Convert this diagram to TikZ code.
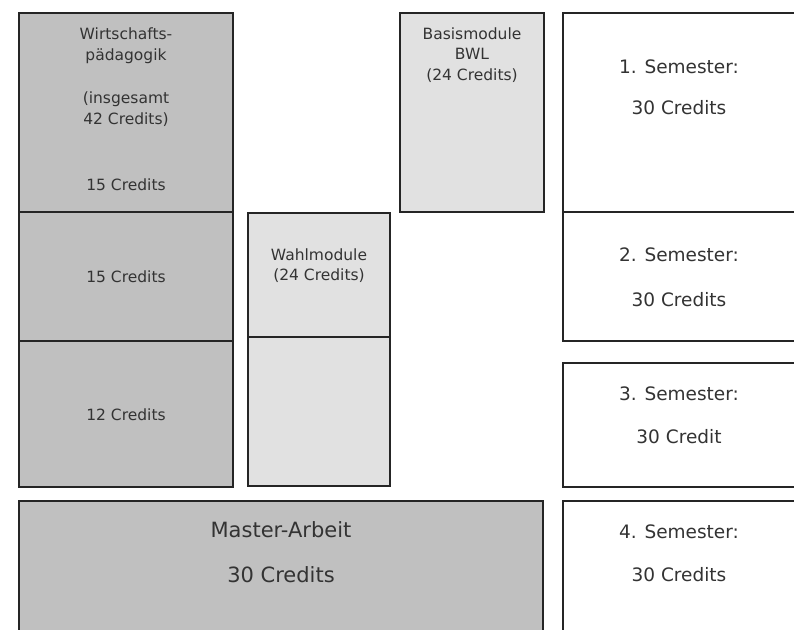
\documentclass[tikz,border=0pt]{standalone}
\usepackage{fontspec}
\setmainfont{DejaVu Sans}
\definecolor{darkfill}{HTML}{C0C0C0}
\definecolor{lightfill}{HTML}{E1E1E1}
\definecolor{edge}{HTML}{252525}
\definecolor{ink}{HTML}{333333}
\tikzset{
  box/.style={draw=edge, line width=2.6pt, inner sep=0pt, outer sep=0pt, anchor=north west},
  dbox/.style={box, fill=darkfill},
  lbox/.style={box, fill=lightfill},
  wbox/.style={box, fill=white},
  small/.style={text=ink, inner sep=0pt, anchor=base, font=\fontsize{15.5}{18}\selectfont},
  mid/.style={text=ink, inner sep=0pt, anchor=base, font=\fontsize{18.5}{22}\selectfont},
  big/.style={text=ink, inner sep=0pt, anchor=base, font=\fontsize{21}{25}\selectfont},
}
\begin{document}
\begin{tikzpicture}[x=1pt,y=-1pt]
\useasboundingbox (0,0) rectangle (794,629);
\clip (0,0) rectangle (794,629);
% boxes
\node[dbox, minimum width=214pt, minimum height=199pt] (wp1) at (19,13) {};
\node[dbox, minimum width=214pt, minimum height=129pt] (wp2) at (19,212) {};
\node[dbox, minimum width=214pt, minimum height=146pt] (wp3) at (19,341) {};
\node[lbox, minimum width=142pt, minimum height=124pt] (wm1) at (248,213) {};
\node[lbox, minimum width=142pt, minimum height=149pt] (wm2) at (248,337) {};
\node[lbox, minimum width=144pt, minimum height=199pt] (bm) at (400,13) {};
\node[wbox, minimum width=250pt, minimum height=199pt] (s1) at (563,13) {};
\node[wbox, minimum width=250pt, minimum height=129pt] (s2) at (563,212) {};
\node[wbox, minimum width=250pt, minimum height=124pt] (s3) at (563,363) {};
\node[wbox, minimum width=250pt, minimum height=150pt] (s4) at (563,501) {};
\node[dbox, minimum width=524pt, minimum height=150pt] (ma) at (19,501) {};
% texts left column
\node[small] (t1) at (126,39.3) {Wirtschafts-};
\node[small] (t2) at (126,60.5) {pädagogik};
\node[small] (t3) at (126,103) {(insgesamt};
\node[small] (t4) at (126,124) {42 Credits)};
\node[small] (t5) at (126,190) {15 Credits};
\node[small] (t6) at (126,282.5) {15 Credits};
\node[small] (t7) at (126,420) {12 Credits};
% Wahlmodule
\node[small] (t8) at (319,260) {Wahlmodule};
\node[small] (t9) at (319,280.7) {(24 Credits)};
% Basismodule
\node[small] (t10) at (472,39.3) {Basismodule};
\node[small] (t11) at (472,59.3) {BWL};
\node[small] (t12) at (472,80) {(24 Credits)};
% semesters
\node[mid] (u1) at (679,73.3) {1. Semester:};
\node[mid] (u2) at (679,114.3) {30 Credits};
\node[mid] (u3) at (679,261.7) {2. Semester:};
\node[mid] (u4) at (679,306) {30 Credits};
\node[mid] (u5) at (679,400.7) {3. Semester:};
\node[mid] (u6) at (679,443.3) {30 Credit};
\node[mid] (u7) at (679,538.3) {4. Semester:};
\node[mid] (u8) at (679,581) {30 Credits};
% master
\node[big] (m1) at (281,537.6) {Master-Arbeit};
\node[big] (m2) at (281,582.6) {30 Credits};
\end{tikzpicture}
\end{document}
